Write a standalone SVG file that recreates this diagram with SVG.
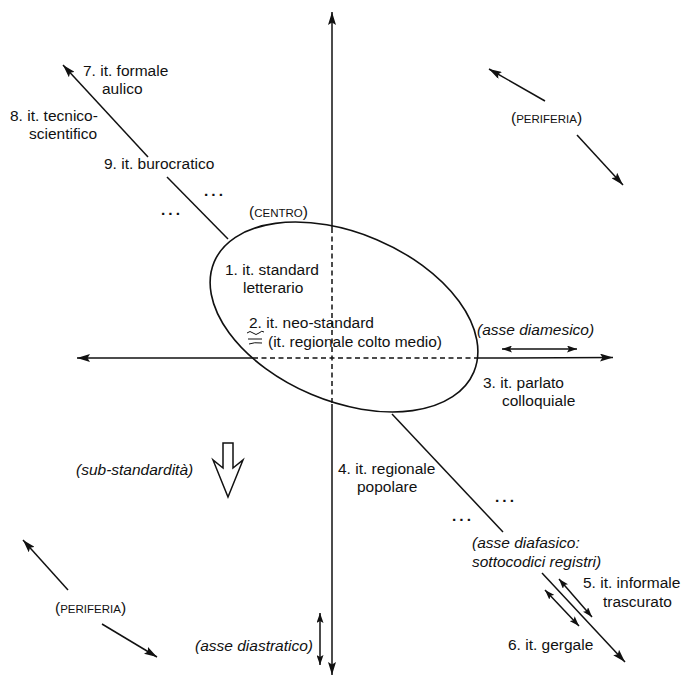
<svg xmlns="http://www.w3.org/2000/svg" width="683" height="677" viewBox="0 0 683 677">
<style>
.t{font-family:"Liberation Sans",Arial,Helvetica,sans-serif;font-size:15.5px;fill:#111}
.i{font-style:italic}
.sc{font-size:11.5px}
.ln{stroke:#111;stroke-width:1.5;fill:none}
.ds{stroke:#111;stroke-width:1.5;fill:none;stroke-dasharray:5,3.5}
.dots{letter-spacing:3px;font-weight:bold}
</style>
<defs>
<marker id="ah" viewBox="0 0 13 8" refX="13" refY="4" markerWidth="13" markerHeight="8" orient="auto-start-reverse" markerUnits="userSpaceOnUse"><path d="M0,0 L13,4 L0,8 L2.5,4 Z" fill="#111"/></marker>
<marker id="as" viewBox="0 0 10 7" refX="10" refY="3.5" markerWidth="10" markerHeight="7" orient="auto-start-reverse" markerUnits="userSpaceOnUse"><path d="M0,0 L10,3.5 L0,7 L2,3.5 Z" fill="#111"/></marker>
</defs>
<rect width="683" height="677" fill="#fff"/>

<g id="connectors">
<!-- vertical axis -->
<line class="ln" x1="332" y1="228" x2="332" y2="12" marker-end="url(#ah)"/>
<line class="ds" x1="332" y1="228" x2="332" y2="404"/>
<line class="ln" x1="332" y1="404" x2="332" y2="675" marker-end="url(#ah)"/>
<!-- horizontal axis -->
<line class="ln" x1="253" y1="358" x2="77" y2="358" marker-end="url(#ah)"/>
<line class="ds" x1="253" y1="358" x2="477" y2="358"/>
<line class="ln" x1="477" y1="358" x2="613" y2="357.5" marker-end="url(#ah)"/>
<!-- diaphasic axis -->
<line class="ln" x1="148" y1="157" x2="63" y2="65" marker-end="url(#ah)"/>
<line class="ln" x1="167" y1="177" x2="228" y2="239"/>
<line class="ln" x1="392" y1="414" x2="503" y2="532"/>
<line class="ln" x1="542" y1="573" x2="625" y2="662" marker-end="url(#ah)"/>
<line class="ln" x1="559" y1="579" x2="592" y2="617" marker-start="url(#as)" marker-end="url(#as)"/>
<line class="ln" x1="545" y1="590" x2="579" y2="626" marker-start="url(#as)" marker-end="url(#as)"/>
<!-- periphery arrows -->
<line class="ln" x1="545" y1="101" x2="489" y2="69" marker-end="url(#ah)"/>
<line class="ln" x1="577" y1="135" x2="623" y2="185" marker-end="url(#ah)"/>
<line class="ln" x1="68" y1="590" x2="23" y2="540" marker-end="url(#ah)"/>
<line class="ln" x1="102" y1="624" x2="157" y2="657" marker-end="url(#ah)"/>
<!-- axis markers -->
<line class="ln" x1="502" y1="349" x2="577" y2="349" marker-start="url(#as)" marker-end="url(#as)"/>
<line class="ln" x1="320" y1="613" x2="320" y2="665" marker-start="url(#as)" marker-end="url(#as)"/>
<!-- sub-standard hollow arrow -->
<path d="M223,443 H233 V468 L243,460 L228,497 L213,460 L223,468 Z" fill="#fff" stroke="#111" stroke-width="1.5" stroke-linejoin="miter"/>
</g>

<g id="centro">
<ellipse cx="344" cy="317" rx="141" ry="84" transform="rotate(23 344 317)" fill="none" stroke="#111" stroke-width="1.6"/>
<text class="t" x="249" y="217">(<tspan class="sc">CENTRO</tspan>)</text>
<text class="t" x="225" y="275">1. it. standard</text>
<text class="t" x="243" y="293">letterario</text>
<text class="t" x="249" y="328">2. it. neo-standard</text>
<text class="t" x="268" y="347">(it. regionale colto medio)</text>
<path d="M247,333 q3,-3 6,0 t6,0 t5,-1 M248,339 h14 M249,344 q5,-2 13,-1" fill="none" stroke="#111" stroke-width="1"/>
</g>

<g id="n7"><text class="t" x="83" y="76">7. it. formale</text><text class="t" x="102" y="94">aulico</text></g>
<g id="n8"><text class="t" x="10" y="121">8. it. tecnico-</text><text class="t" x="29" y="139">scientifico</text></g>
<g id="n9"><text class="t" x="104" y="169">9. it. burocratico</text></g>
<g id="dots"><text class="t dots" x="215" y="196" text-anchor="middle">...</text><text class="t dots" x="172" y="215" text-anchor="middle">...</text><text class="t dots" x="506" y="502" text-anchor="middle">...</text><text class="t dots" x="463" y="521" text-anchor="middle">...</text></g>
<g id="periferia1"><text class="t" x="511" y="123">(<tspan class="sc">PERIFERIA</tspan>)</text></g>
<g id="periferia2"><text class="t" x="55" y="613">(<tspan class="sc">PERIFERIA</tspan>)</text></g>
<g id="diamesico"><text class="t i" x="477" y="335">(asse diamesico)</text></g>
<g id="n3"><text class="t" x="483" y="388">3. it. parlato</text><text class="t" x="502" y="406">colloquiale</text></g>
<g id="n4"><text class="t" x="338" y="474">4. it. regionale</text><text class="t" x="357" y="492">popolare</text></g>
<g id="substandard"><text class="t i" x="76" y="475">(sub-standardità)</text></g>
<g id="diafasico"><text class="t i" x="472" y="548">(asse diafasico:</text><text class="t i" x="472" y="567">sottocodici registri)</text></g>
<g id="n5"><text class="t" x="583" y="588">5. it. informale</text><text class="t" x="603" y="607">trascurato</text></g>
<g id="n6"><text class="t" x="508" y="650">6. it. gergale</text></g>
<g id="diastratico"><text class="t i" x="195" y="651">(asse diastratico)</text></g>
</svg>
